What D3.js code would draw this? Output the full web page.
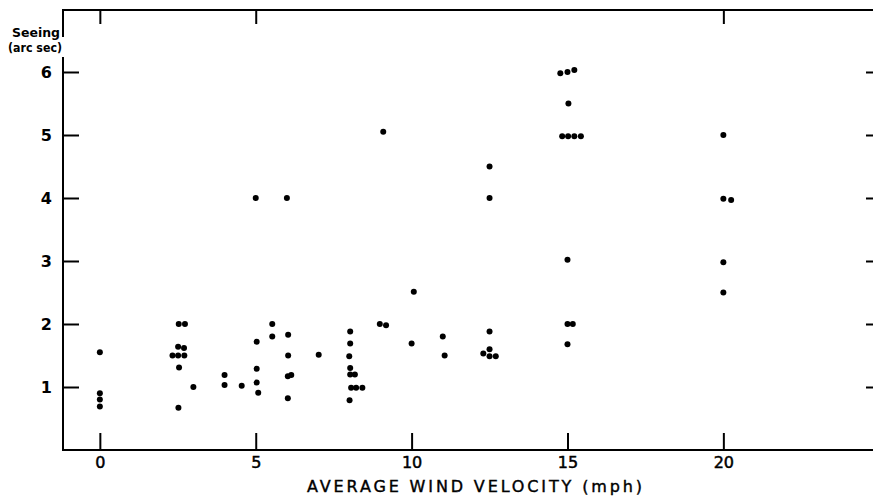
<!DOCTYPE html>
<html>
<head>
<meta charset="utf-8">
<script src="https://cdn.jsdelivr.net/npm/d3@7"></script>
<style>
  html, body { margin: 0; padding: 0; background: #fff; }
  svg { display: block; }
  text { font-family: "DejaVu Sans", sans-serif; fill: #000; }
</style>
</head>
<body>
<svg id="chart" width="873" height="498"></svg>
<script>
// Data
const windVelocity = [
  0, 0, 0, 0,
  2.53, 2.73, 2.51, 2.70, 2.33, 2.51, 2.71, 2.54, 2.52,
  3.0,
  4.0, 4.0,
  4.55,
  5.0, 5.03, 5.03, 5.03, 5.08,
  5.53, 5.53,
  6.0, 6.04, 6.04, 6.03, 6.14, 6.03,
  7.02,
  8.03, 8.03, 8.0, 8.03, 8.03, 8.18, 8.06, 8.22, 8.42, 8.01,
  8.98, 9.18, 9.09,
  10.07, 10.0,
  11.0, 11.06,
  12.5, 12.5, 12.5, 12.5, 12.3, 12.5, 12.7,
  14.77, 15.0, 15.22, 15.03, 14.83, 15.02, 15.22, 15.43, 15.0, 15.0, 15.17, 15.0,
  20.0, 20.0, 20.25, 20.0, 20.0
];
const seeing = [
  1.55, 0.90, 0.80, 0.69,
  2.0, 2.0, 1.64, 1.62, 1.50, 1.50, 1.50, 1.31, 0.67,
  1.0,
  1.19, 1.03,
  1.02,
  4.0, 1.72, 1.29, 1.07, 0.91,
  2.0, 1.80,
  4.0, 1.83, 1.50, 1.17, 1.19, 0.82,
  1.51,
  1.88, 1.69, 1.49, 1.30, 1.20, 1.20, 0.99, 0.99, 0.99, 0.79,
  2.0, 1.98, 5.05,
  2.51, 1.69,
  1.80, 1.50,
  4.5, 4.0, 1.88, 1.60, 1.53, 1.49, 1.49,
  5.98, 6.0, 6.03, 5.5, 4.98, 4.98, 4.98, 4.98, 3.02, 2.0, 2.0, 1.68,
  5.0, 3.99, 3.97, 2.98, 2.50
];
const xTicks = [0, 5, 10, 15, 20];
const xTopTicks = [0, 5, 20];
const yTicks = [1, 2, 3, 4, 5, 6];
const xTitle = "AVERAGE WIND VELOCITY (mph)";
const yTitle = ["Seeing", "(arc sec)"];

const svg = d3.select("#chart");
const x = d3.scaleLinear().domain([-1.15, 24.8]).range([64, 873]);
const y = d3.scaleLinear().domain([0, 6.984]).range([450, 10]);

const stroke = "#000";
const g = svg.append("g");

// Frame lines
g.append("line").attr("x1", 62).attr("x2", 873).attr("y1", y(0)).attr("y2", y(0))
  .attr("stroke", stroke).attr("stroke-width", 2);
g.append("line").attr("x1", 62).attr("x2", 873).attr("y1", 10).attr("y2", 10)
  .attr("stroke", stroke).attr("stroke-width", 2);
// Left axis with gap for title
g.append("line").attr("x1", 63).attr("x2", 63).attr("y1", 9).attr("y2", 37)
  .attr("stroke", stroke).attr("stroke-width", 2);
g.append("line").attr("x1", 63).attr("x2", 63).attr("y1", 57).attr("y2", 451)
  .attr("stroke", stroke).attr("stroke-width", 2);

// Left ticks + labels
const leftAxis = d3.axisLeft(y).tickValues(yTicks).tickSizeInner(-16).tickSizeOuter(0).tickPadding(11).tickFormat(d3.format("d"));
const la = g.append("g").attr("transform", "translate(63,0)").call(leftAxis);
la.select(".domain").remove();
la.selectAll(".tick line").attr("stroke", stroke).attr("stroke-width", 2);
la.selectAll(".tick text").attr("font-size", 16).attr("font-family", "DejaVu Sans")
  .attr("fill", "#000").style("font-weight", "bold");

// Right ticks
const rightAxis = d3.axisRight(y).tickValues(yTicks).tickSize(-7).tickFormat("");
const ra = g.append("g").attr("transform", "translate(873,0)").call(rightAxis);
ra.select(".domain").remove();
ra.selectAll(".tick line").attr("stroke", stroke).attr("stroke-width", 2);

// Bottom ticks + labels
const bottomAxis = d3.axisBottom(x).tickValues(xTicks).tickSizeInner(-17).tickSizeOuter(0).tickPadding(22).tickFormat(d3.format("d"));
const ba = g.append("g").attr("transform", `translate(0,${y(0)})`).call(bottomAxis);
ba.select(".domain").remove();
ba.selectAll(".tick line").attr("stroke", stroke).attr("stroke-width", 2);
ba.selectAll(".tick text").attr("font-size", 16).attr("font-family", "DejaVu Sans")
  .attr("fill", "#000").attr("dy", "0.71em").attr("y", 7)
  .attr("stroke", "#000").attr("stroke-width", 0.5);

// Top ticks
const topAxis = d3.axisTop(x).tickValues(xTopTicks).tickSize(-14).tickFormat("");
const ta = g.append("g").attr("transform", "translate(0,10)").call(topAxis);
ta.select(".domain").remove();
ta.selectAll(".tick line").attr("stroke", stroke).attr("stroke-width", 2);

// Titles
svg.append("text").attr("x", 307).attr("y", 492).attr("font-size", 16)
  .attr("stroke", "#000").attr("stroke-width", 0.4)
  .attr("textLength", 335).attr("lengthAdjust", "spacing").text(xTitle);
svg.append("text").attr("x", 60).attr("y", 37).attr("text-anchor", "end")
  .attr("font-size", 11.5).style("font-weight", "bold")
  .attr("textLength", 48).attr("lengthAdjust", "spacingAndGlyphs").text(yTitle[0]);
svg.append("text").attr("x", 62).attr("y", 52).attr("text-anchor", "end")
  .attr("font-size", 11.5).style("font-weight", "bold")
  .attr("textLength", 54).attr("lengthAdjust", "spacingAndGlyphs").text(yTitle[1]);

// Points
const pts = windVelocity.map((v, i) => ({ v, s: seeing[i] }));
svg.append("g").selectAll("circle").data(pts).join("circle")
  .attr("cx", d => x(d.v)).attr("cy", d => y(d.s)).attr("r", 3).attr("fill", "#000");
</script>
</body>
</html>
